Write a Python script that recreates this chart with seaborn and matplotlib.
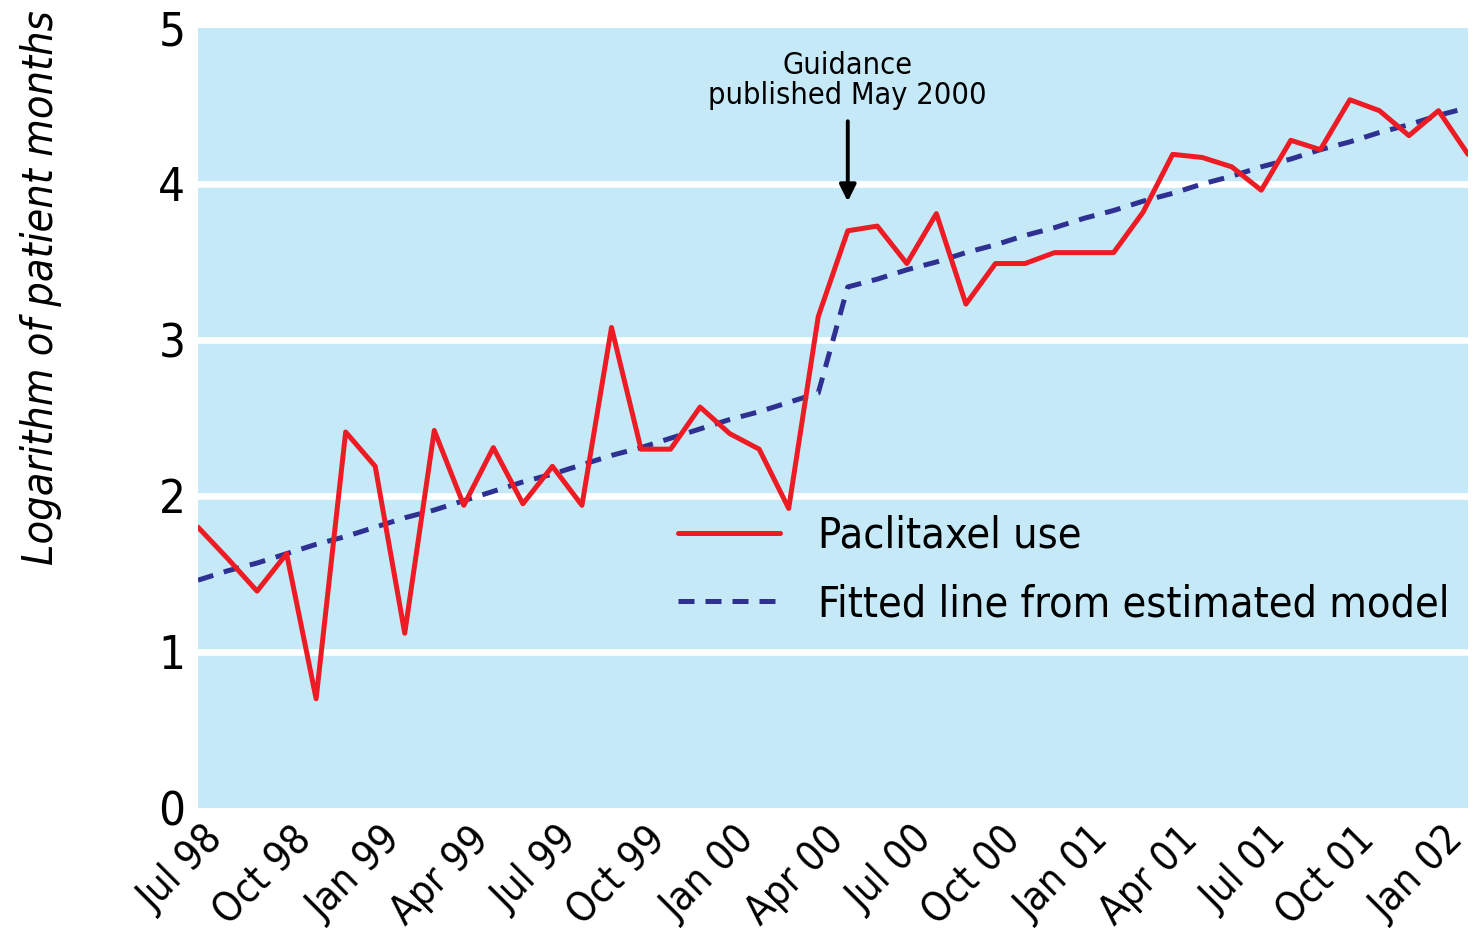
import matplotlib
matplotlib.use("Agg")
import matplotlib.pyplot as plt
import matplotlib.transforms as mtrans
import seaborn as sns
import pandas as pd

# monthly data, Jul 98 .. Feb 02
months = pd.date_range("1998-07-01", "2002-02-01", freq="MS")
paclitaxel = [1.80, 1.60, 1.39, 1.63, 0.70, 2.41, 2.19, 1.12, 2.42, 1.94,
              2.31, 1.95, 2.19, 1.94, 3.08, 2.30, 2.30, 2.57, 2.40, 2.30,
              1.92, 3.15, 3.70, 3.73, 3.49, 3.81, 3.23, 3.49, 3.49, 3.56,
              3.56, 3.56, 3.82, 4.19, 4.17, 4.11, 3.96, 4.28, 4.22, 4.54,
              4.47, 4.31, 4.47, 4.19]
fitted = [1.46, 1.52, 1.57, 1.63, 1.69, 1.74, 1.80, 1.86, 1.91, 1.97,
          2.03, 2.09, 2.14, 2.20, 2.26, 2.31, 2.37, 2.43, 2.49, 2.54,
          2.60, 2.66, 3.34, 3.39, 3.45, 3.50, 3.56, 3.61, 3.67, 3.72,
          3.78, 3.83, 3.89, 3.94, 4.00, 4.05, 4.11, 4.16, 4.22, 4.27,
          4.33, 4.38, 4.44, 4.49]
tick_labels = ["Jul 98", "Oct 98", "Jan 99", "Apr 99", "Jul 99", "Oct 99",
               "Jan 00", "Apr 00", "Jul 00", "Oct 00", "Jan 01", "Apr 01",
               "Jul 01", "Oct 01", "Jan 02"]

df = pd.DataFrame({"month": range(len(months)), "use": paclitaxel, "fit": fitted})

sns.set_style("white")
# condensed face, closest to the narrow Helvetica of the original
plt.rcParams["font.family"] = ["DejaVu Sans"]
plt.rcParams["font.stretch"] = "condensed"
plt.rcParams["text.color"] = "black"
plt.rcParams["axes.labelcolor"] = "black"
plt.rcParams["ytick.color"] = "black"

fig = plt.figure(figsize=(14.72, 9.36), dpi=100)
ax = fig.add_axes([0.1345, 0.1368, 0.8628, 0.8333])
ax.set_facecolor("#c6e9f8")
for s in ax.spines.values():
    s.set_visible(False)

for y in [1, 2, 3, 4]:
    ax.axhline(y, color="white", lw=4.8, zorder=1)

sns.lineplot(data=df, x="month", y="fit", ax=ax, color="#2e3192", lw=3.6,
             dashes=(3.2, 2.2), label="Fitted line from estimated model", zorder=3)
sns.lineplot(data=df, x="month", y="use", ax=ax, color="#ed1c24", lw=3.6,
             label="Paclitaxel use", zorder=4)

ax.set_xlim(0, 43)
ax.set_ylim(0, 5)
ax.set_xticks(range(0, 43, 3))
ax.set_xticklabels(tick_labels, rotation=45, ha="right", rotation_mode="anchor")
ax.set_yticks(range(6))
ax.tick_params(axis="x", direction="in", colors="white", length=10, width=3.6,
               labelcolor="black", labelsize=29, pad=4)
ax.tick_params(axis="y", length=0, labelsize=34, pad=9)
shift = mtrans.ScaledTranslation(0.05, -0.06, fig.dpi_scale_trans)
for lab in ax.get_xticklabels():
    lab.set_transform(lab.get_transform() + shift)
ax.set_xlabel("")
ax.set_ylabel("Logarithm of patient months", fontsize=31, style="italic")
ax.yaxis.set_label_coords(-0.107, 0.667)

ax.annotate("", xy=(22, 3.87), xytext=(22, 4.42),
            arrowprops=dict(arrowstyle="-|>", color="black", lw=2.8, mutation_scale=25))
ax.text(22, 4.665, "Guidance\npublished May 2000", ha="center", va="center",
        fontsize=22, linespacing=1.05)

h, l = ax.get_legend_handles_labels()
ax.legend(h[::-1], l[::-1], loc="center left", bbox_to_anchor=(0.378, 0.305),
          frameon=False, fontsize=31, handlelength=2.37, handletextpad=0.88,
          labelspacing=0.62, borderpad=0, borderaxespad=0)

fig.savefig("out.png", dpi=100)
